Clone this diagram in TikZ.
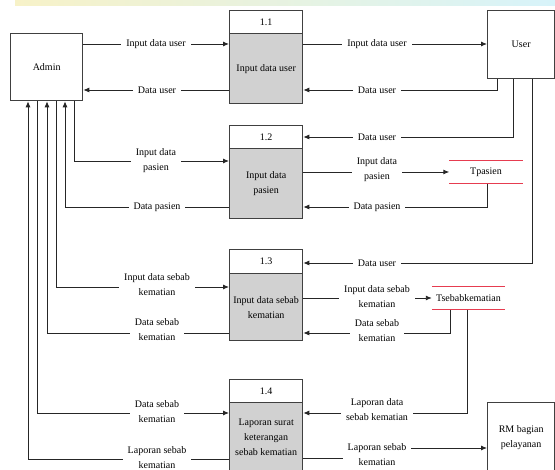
\documentclass[tikz,border=0pt]{standalone}
\usepackage{fontspec}
\setmainfont{Liberation Serif}
\usetikzlibrary{arrows.meta}
\definecolor{storered}{RGB}{230,60,80}
\definecolor{bandy}{RGB}{247,242,200}
\definecolor{bandg}{RGB}{222,222,222}
\definecolor{bandc}{RGB}{215,243,250}
\begin{document}
\begin{tikzpicture}[x=1pt,y=-1pt,
  txt/.style={font=\fontsize{10}{15}\selectfont},
  ext/.style={txt,draw=black!75,line width=1.3pt,fill=white,inner sep=0pt,align=center,anchor=north west},
  prochead/.style={txt,draw=black!75,line width=1.3pt,fill=white,minimum width=73pt,inner sep=0pt,anchor=north west},
  procbody/.style={txt,draw=black!75,line width=1.3pt,fill=black!18,minimum width=73pt,inner sep=0pt,align=center,anchor=north west},
  flow/.style={draw=black!85,line width=0.9pt,-{Latex[length=6pt,width=5pt]}},
  lbl/.style={txt,fill=white,inner xsep=5pt,inner ysep=1pt,align=center},
  storenode/.style={txt,minimum width=73pt,minimum height=23pt,inner sep=0pt},
  storeline/.style={draw=storered,line width=1.2pt}
]
\useasboundingbox (0,0) rectangle (555,470);
\shade[left color=bandy,middle color=bandg,right color=bandc] (15,0) rectangle (555,6);

% external entities
\node[ext,minimum width=72pt,minimum height=67pt] (admin) at (10,33) {Admin};
\node[ext,minimum width=67pt,minimum height=68pt] (user) at (487,10) {User};
\node[ext,minimum width=67pt,minimum height=70pt] (rm) at (487,402) {RM bagian\\pelayanan};

% processes
\node[prochead,minimum height=23pt] (p1h) at (229,10) {1.1};
\node[procbody,minimum height=70pt] (p1b) at (229,33) {Input data user};
\node[prochead,minimum height=23pt] (p2h) at (229,125) {1.2};
\node[procbody,minimum height=70pt] (p2b) at (229,148) {Input data\\pasien};
\node[prochead,minimum height=24pt] (p3h) at (229,249) {1.3};
\node[procbody,minimum height=67pt] (p3b) at (229,273) {Input data sebab\\kematian};
\node[prochead,minimum height=23pt] (p4h) at (229,379) {1.4};
\node[procbody,minimum height=70pt] (p4b) at (229,402) {Laporan surat\\keterangan\\sebab kematian};

% data stores
\node[storenode] (store1) at (486,172) {Tpasien};
\draw[storeline] (store1.north west) -- (store1.north east);
\draw[storeline] (store1.south west) -- (store1.south east);
\node[storenode] (store2) at (468.5,298) {Tsebabkematian};
\draw[storeline] (store2.north west) -- (store2.north east);
\draw[storeline] (store2.south west) -- (store2.south east);

% flows left
\draw[flow] (admin.east |- 0,44) -- (p1b.west |- 0,44);
\draw[flow] (p1b.west |- 0,90) -- (admin.east |- 0,90);
\draw[flow] (admin.south -| 74,0) |- (p2b.west |- 0,161);
\draw[flow] (p2b.west |- 0,207) -| (admin.south -| 65,0);
\draw[flow] (admin.south -| 56,0) |- (p3b.west |- 0,287);
\draw[flow] (p3b.west |- 0,333) -| (admin.south -| 47,0);
\draw[flow] (admin.south -| 37,0) |- (p4b.west |- 0,413);
\draw[flow] (p4b.west |- 0,459) -| (admin.south -| 28,0);

% flows right
\draw[flow] (p1b.east |- 0,44) -- (user.west |- 0,44);
\draw[flow] (user.south -| 497,0) |- (p1b.east |- 0,90);
\draw[flow] (user.south -| 513,0) |- (p2h.east |- 0,137);
\draw[flow] (p2b.east |- 0,172) -- (store1.west |- 0,172);
\draw[flow] (store1.south -| 487,0) |- (p2b.east |- 0,207);
\draw[flow] (user.south -| 532,0) |- (p3h.east |- 0,263);
\draw[flow] (p3b.east |- 0,298) -- (store2.west |- 0,298);
\draw[flow] (store2.south -| 450,0) |- (p3b.east |- 0,333);
\draw[flow] (store2.south -| 467,0) |- (p4b.east |- 0,413);
\draw[flow] (p4b.east |- 0,458) -- (377,458) -- (377,448) -- (rm.west |- 0,448);

% labels
\node[lbl] (l1) at (156,44) {Input data user};
\node[lbl] (l2) at (157,90) {Data user};
\node[lbl] (l3) at (156,161) {Input data\\pasien};
\node[lbl] (l4) at (157,207) {Data pasien};
\node[lbl] (l5) at (157,285) {Input data sebab\\kematian};
\node[lbl] (l6) at (157,330) {Data sebab\\kematian};
\node[lbl] (l7) at (157,412) {Data sebab\\kematian};
\node[lbl] (l8) at (157,458) {Laporan sebab\\kematian};

\node[lbl] (r1) at (377,44) {Input data user};
\node[lbl] (r2) at (377,90) {Data user};
\node[lbl] (r3) at (377,137) {Data user};
\node[lbl] (r4) at (377,170) {Input data\\pasien};
\node[lbl] (r5) at (377,207) {Data pasien};
\node[lbl] (r6) at (377,263) {Data user};
\node[lbl] (r7) at (377,297) {Input data sebab\\kematian};
\node[lbl] (r8) at (377,331) {Data sebab\\kematian};
\node[lbl] (r9) at (377,410) {Laporan data\\sebab kematian};
\node[lbl] (r10) at (377,455) {Laporan sebab\\kematian};
\end{tikzpicture}
\end{document}
